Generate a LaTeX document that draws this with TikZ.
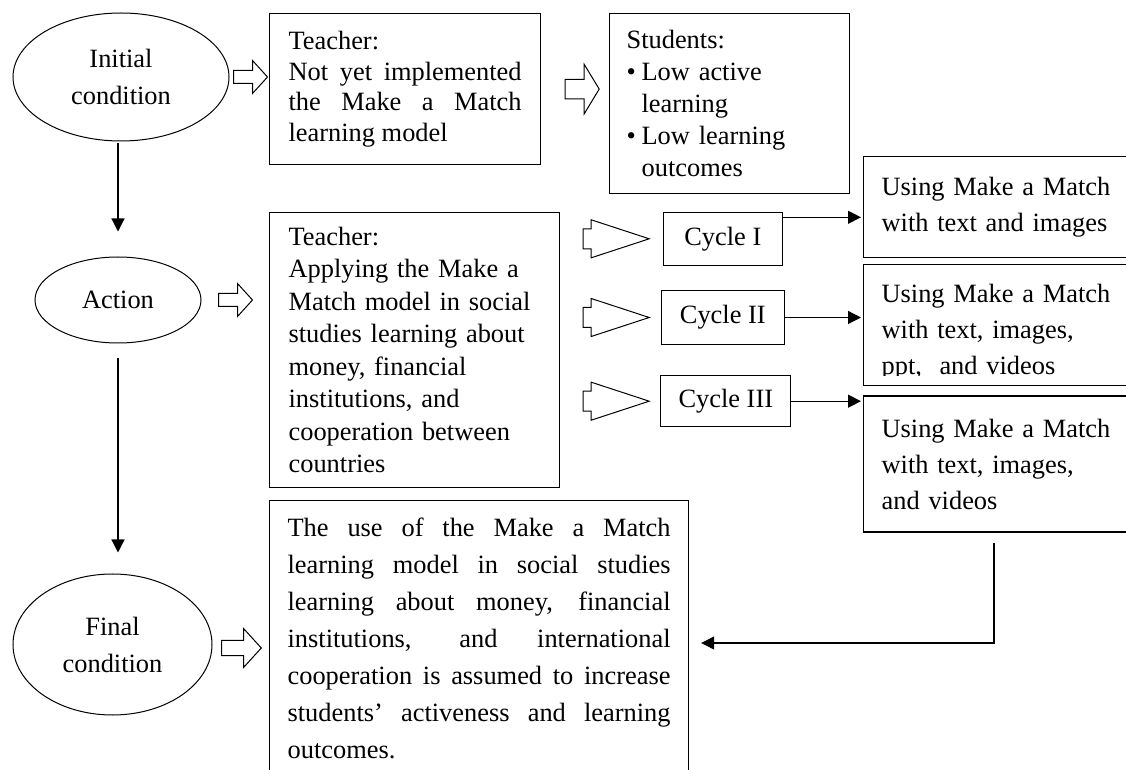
\documentclass[tikz,border=0pt]{standalone}
\usepackage{fontspec}
\setmainfont{Liberation Serif}
\usetikzlibrary{shapes.geometric,arrows.meta,positioning}
\tolerance=10000
\hbadness=10000

\begin{document}
\begin{tikzpicture}[x=1pt,y=1pt,
  stage/.style={ellipse,draw,line width=.5pt,inner sep=0pt,align=center,font=\fontsize{13.2}{18.5}\selectfont},
  box/.style={rectangle,draw,line width=.6pt,anchor=north west,inner xsep=9.5pt,font=\fontsize{13.2}{16}\selectfont},
  outbox/.style={box,inner xsep=9pt,text width=125pt,align=left,font=\fontsize{13.2}{18}\selectfont},
  cycbox/.style={rectangle,draw,line width=.6pt,inner sep=0pt,font=\fontsize{13.2}{14}\selectfont},
  flow/.style={-{Triangle[length=6.5pt,width=6.5pt]},line width=.6pt},
  flowarrow/.pic={\draw[line width=.5pt] (0,-3.25) -- (9.5,-3.25) -- (9.5,-8.25) -- (17,0)
      -- (9.5,8.25) -- (9.5,3.25) -- (0,3.25) -- cycle;},
  cycarrow/.pic={\draw[line width=.5pt] (0,-5) -- (4,-5) -- (4,-9.5) -- (33,0)
      -- (4,9.5) -- (4,5) -- (0,5) -- cycle;}]

  \useasboundingbox (0,0) rectangle (563,-385);

  \node[stage,minimum width=108pt,minimum height=64pt] (init) at (60.5,-38.5) {Initial\\condition};
  \node[stage,minimum width=83pt,minimum height=43pt] (action) at (59,-150) {Action};
  \node[stage,minimum width=99.5pt,minimum height=70.5pt] (final) at (56.25,-322.25) {Final\\condition};

  \node[box,text width=116.5pt,minimum height=75.5pt,align=justify,font=\fontsize{13.2}{15.2}\selectfont]
    (teach1) at (134.5,-6.5) {Teacher:\\Not yet implemented\linebreak the Make a Match\linebreak learning model};
  \node[box,inner xsep=8.5pt,text width=103pt,minimum height=90pt,align=left]
    (pupils) at (304.5,-6.5) {Students:\\\makebox[7.5pt][l]{•}Low active\\\hspace*{7.5pt}learning\\
      \makebox[7.5pt][l]{•}Low learning\\\hspace*{7.5pt}outcomes};
  \node[box,text width=126pt,minimum height=137.5pt,align=left,font=\fontsize{13.2}{16.25}\selectfont]
    (teach2) at (134.5,-106) {Teacher:\\Applying the Make a\\Match model in social\\studies learning about\\
      money, financial\\institutions, and\\cooperation between\\countries};

  \node[cycbox,minimum width=59.5pt,minimum height=26.5pt] (cyc1) at (361.4,-119.4) {Cycle I};
  \node[cycbox,minimum width=61.5pt,minimum height=27pt,below=12pt of cyc1] (cyc2) {Cycle II};
  \node[cycbox,minimum width=65pt,minimum height=25.5pt,below=15pt of cyc2,xshift=1.5pt] (cyc3) {Cycle III};

  \node[outbox,minimum height=50.5pt] (out1) at (431.5,-78) {Using Make a Match\\with text and images};
  \node[box,minimum width=143pt,minimum height=60.5pt,below=3pt of out1.south west,anchor=north west] (out2) {};
  \begin{scope}
    \clip (out2.north west) rectangle ([yshift=5.5pt]out2.south east);
    \node[outbox,anchor=west,draw=none] (out2txt) at ([yshift=-3.5pt]out2.west)
      {Using Make a Match\\with text, images,\\ppt,~ and videos};
  \end{scope}
  \node[outbox,minimum height=68pt,below=4.5pt of out2.south west,anchor=north west]
    (out3) {Using Make a Match\\with text, images,\\and videos};

  \node[box,inner xsep=9pt,inner ysep=8.5pt,text width=191.5pt,text depth=135pt,align=justify,
    font=\fontsize{13.2}{18.5}\selectfont] (result) at (134.5,-250)
    {The use of the Make a Match\linebreak learning model in social studies\linebreak
     learning about money, financial\linebreak institutions, and international\linebreak
     cooperation is assumed to increase\linebreak students’ activeness and learning\linebreak outcomes.};

  \pic at ([xshift=2pt]init.east) {flowarrow};
  \pic[yscale=1.5] at ([xshift=12pt]teach1.east) {flowarrow};
  \pic at ([xshift=8.5pt]action.east) {flowarrow};
  \pic[scale=1.17] at ([xshift=4.5pt,yshift=-1.75pt]final.east) {flowarrow};
  \foreach \c in {cyc1,cyc2,cyc3}
    \pic at ([xshift=11.5pt]teach2.east |- \c.west) {cycarrow};

  \coordinate (turn) at (497,-321.5);
  \path[flow]
  (action.north |- init.south) edge[shorten <=1pt,shorten >=12.5pt] (action.north)
  (action.south) edge[shorten <=7.5pt,shorten >=10.5pt] (action.south |- final.north)
  ([yshift=10.75pt]cyc1.east) edge[shorten >=1pt] ([yshift=10.75pt]cyc1.east -| out1.west)
  (cyc2.east) edge[shorten >=1pt] (cyc2.east -| out2.west)
  (cyc3.east) edge[shorten >=1pt] (cyc3.east -| out3.west);
  \draw[flow,shorten <=5pt,shorten >=6pt] (out3.south -| turn) |- (result.east |- turn);
\end{tikzpicture}
\end{document}
